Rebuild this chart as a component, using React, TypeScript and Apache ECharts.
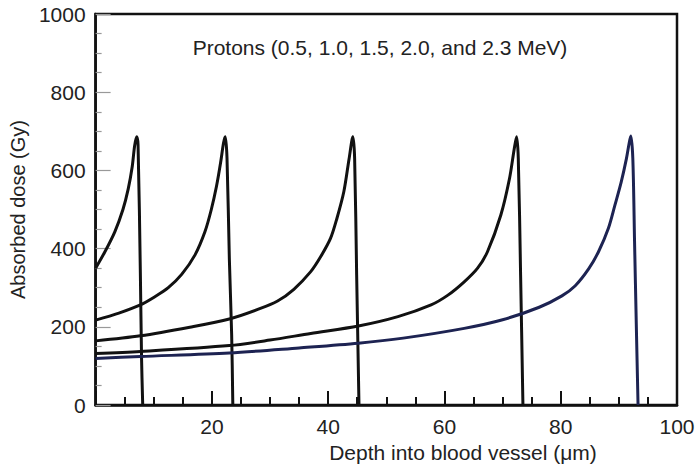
import React, { useEffect, useRef } from "react";
import * as echarts from "echarts";

const FONT = "'Liberation Sans', Arial, Helvetica, sans-serif";

const titleText = "Protons (0.5, 1.0, 1.5, 2.0, and 2.3 MeV)";
const xAxisTitle = "Depth into blood vessel (\u03bcm)";
const yAxisTitle = "Absorbed dose (Gy)";

// [depth (µm), dose (Gy)]
const proton05: [number, number][] = [
  [0, 350], [1.6, 392], [3.3, 443], [4.7, 500], [5.6, 552], [6.3, 610],
  [6.7, 662], [7.05, 686], [7.3, 665], [7.7, 332], [7.9, 120], [8.1, 0],
];
const proton10: [number, number][] = [
  [0, 217], [4, 235], [7.7, 256], [10.2, 277], [12.5, 300], [14.8, 334],
  [17.1, 384], [18.8, 443], [19.9, 500], [20.8, 560], [21.5, 620],
  [22.0, 670], [22.3, 686], [22.6, 631], [23.0, 375], [23.4, 179], [23.6, 0],
];
const proton15: [number, number][] = [
  [0, 164], [7.7, 177], [16.2, 199], [23, 220], [28, 245], [31.3, 266],
  [34.1, 296], [37, 341], [38.7, 379], [40.4, 426], [41.5, 477], [42.7, 546],
  [43.6, 630], [44.25, 686], [44.55, 631], [44.9, 332], [45.3, 0],
];
const proton20: [number, number][] = [
  [0, 132], [7.7, 137], [23, 152], [30, 166], [37, 183], [45.2, 202],
  [52, 226], [57.7, 256], [60.6, 281], [63.4, 315], [65.7, 350], [67.4, 392],
  [69.7, 486], [71.2, 580], [72, 655], [72.4, 686], [72.7, 631], [73.1, 332],
  [73.5, 0],
];
const proton23: [number, number][] = [
  [0, 119], [7.7, 124], [23, 133], [35, 146], [45.2, 158], [52.9, 171],
  [63.4, 196], [70, 218], [76.3, 250], [80.2, 279], [82.5, 305], [84.8, 348],
  [86.5, 392], [88.2, 452], [89.3, 510], [90.4, 570], [91.3, 630], [91.8, 672],
  [92.05, 688], [92.4, 631], [92.7, 417], [93.0, 205], [93.3, 0],
];

const seriesList = [
  { name: "0.5 MeV", data: proton05, color: "#111111" },
  { name: "1.0 MeV", data: proton10, color: "#111111" },
  { name: "1.5 MeV", data: proton15, color: "#111111" },
  { name: "2.0 MeV", data: proton20, color: "#111111" },
  { name: "2.3 MeV", data: proton23, color: "#1d2352" },
];

export default function App() {
  const ref = useRef<HTMLDivElement>(null);
  useEffect(() => {
    if (!ref.current) return;
    const chart = echarts.init(ref.current, undefined, { renderer: "svg" });
    chart.setOption({
      animation: false,
      backgroundColor: "#ffffff",
      grid: {
        left: 90,
        right: 21,
        top: 14,
        bottom: 64,
        show: true,
        borderColor: "#111111",
        borderWidth: 2.5,
        backgroundColor: "transparent",
      },
      xAxis: {
        type: "value",
        min: 0,
        max: 100,
        interval: 20,
        axisLine: { show: true, lineStyle: { color: "#111111", width: 2.5 } },
        axisTick: { show: true, inside: true, length: 14, lineStyle: { color: "#111111", width: 2 } },
        minorTick: { show: true, splitNumber: 4, length: 8, lineStyle: { color: "#111111", width: 2 } },
        splitLine: { show: false },
        axisLabel: {
          margin: 11,
          fontSize: 21,
          fontFamily: FONT,
          color: "#222222",
          formatter: (v: number) => (v === 0 ? "" : String(v)),
        },
      },
      yAxis: {
        type: "value",
        min: 0,
        max: 1000,
        interval: 200,
        axisLine: { show: true, lineStyle: { color: "#111111", width: 2.5 } },
        axisTick: { show: true, inside: true, length: 15, lineStyle: { color: "#999999", width: 1.2 } },
        minorTick: { show: true, splitNumber: 4, length: 6, lineStyle: { color: "#999999", width: 1.2 } },
        splitLine: { show: false },
        axisLabel: {
          margin: 10,
          fontSize: 21,
          fontFamily: FONT,
          color: "#222222",
          formatter: (v: number) => String(v),
        },
        name: yAxisTitle,
        nameLocation: "middle",
        nameGap: 62,
        nameRotate: 90,
        nameTextStyle: { fontSize: 20, fontFamily: FONT, color: "#222222" },
      },
      graphic: [
        {
          type: "text",
          x: 380,
          y: 47,
          style: {
            text: titleText,
            fontSize: 21,
            fontFamily: FONT,
            fill: "#222222",
            textAlign: "center",
            textVerticalAlign: "middle",
          },
        },
        {
          type: "text",
          x: 463,
          y: 452,
          style: {
            text: xAxisTitle,
            fontSize: 21,
            fontFamily: FONT,
            fill: "#222222",
            textAlign: "center",
            textVerticalAlign: "middle",
          },
        },
      ],
      series: seriesList.map((s) => ({
        name: s.name,
        type: "line",
        data: s.data,
        showSymbol: false,
        symbol: "none",
        smooth: 0.3,
        lineStyle: { color: s.color, width: 3 },
        itemStyle: { color: s.color },
        z: 3,
      })),
    });
    return () => chart.dispose();
  }, []);
  return (
    <div
      ref={ref}
      style={{ position: "fixed", left: 0, top: 0, width: 698, height: 469, background: "#fff" }}
    />
  );
}
